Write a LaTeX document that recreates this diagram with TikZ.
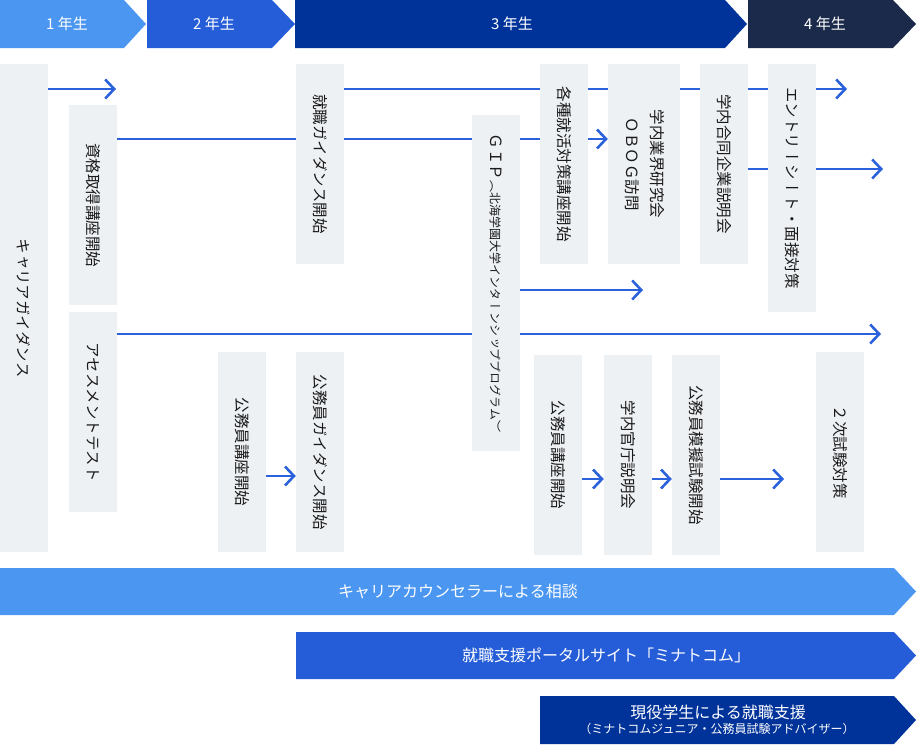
\documentclass[tikz,border=0pt]{standalone}
\usepackage{fontspec}
\usepackage{graphicx}
\setmainfont{Noto Sans CJK JP}
\newfontfamily\tate[Vertical=RotatedGlyphs]{Noto Sans CJK JP}
\usetikzlibrary{arrows.meta,backgrounds}

\definecolor{boxgray}{HTML}{EEF1F4}
\definecolor{flowblue}{HTML}{2B62DC}
\definecolor{grade1}{HTML}{4A96F0}
\definecolor{grade2}{HTML}{255CD8}
\definecolor{grade3}{HTML}{00339A}
\definecolor{grade4}{HTML}{1B2A4A}
\definecolor{inktext}{HTML}{1A1A1A}

\newcommand{\vtext}[1]{\rotatebox{-90}{\tate\fontsize{15.5}{25}\selectfont #1}}

\tikzset{
  box/.style={fill=boxgray, minimum width=48pt, inner sep=0pt, text=inktext},
  flow/.style={draw=flowblue, line width=2.8pt, -{Straight Barb[length=9pt,width=19pt,line width=2.6pt]}},
  bandtext/.style={text=white, font=\fontsize{15}{18}\selectfont},
  bartext/.style={text=white, font=\fontsize{16}{19}\selectfont},
}

\begin{document}
\begin{tikzpicture}[x=1pt,y=-1pt]
\useasboundingbox (0,0) rectangle (917,744);

% grade bands
\fill[grade1] (0,0) -- (124,0) -- (146,24) -- (124,48) -- (0,48) -- cycle;
\fill[grade2] (147,0) -- (272,0) -- (295,24) -- (272,48) -- (147,48) -- cycle;
\fill[grade3] (295,0) -- (725,0) -- (747,24) -- (725,48) -- (295,48) -- cycle;
\fill[grade4] (748,0) -- (893,0) -- (916,24) -- (893,48) -- (748,48) -- cycle;
\node[bandtext] (year1) at (67,24) {1 年生};
\node[bandtext] (year2) at (214,24) {2 年生};
\node[bandtext] (year3) at (512,24) {3 年生};
\node[bandtext] (year4) at (825,24) {4 年生};

% boxes
\node[box, minimum height=488pt] (careerguide) at (24,308) {\vtext{キャリアガイダンス}};
\node[box, minimum height=200pt] (shikaku) at (93,205) {\vtext{資格取得講座開始}};
\node[box, minimum height=200pt] (assess) at (93,412) {\vtext{アセスメントテスト}};
\node[box, minimum height=200pt] (jobguide) at (320,164) {\vtext{就職ガイダンス開始}};
\node[box, minimum height=200pt] (kouza1) at (242,452) {\vtext{公務員講座開始}};
\node[box, minimum height=200pt] (kguide) at (320,452) {\vtext{公務員ガイダンス開始}};
\node[box, minimum height=336pt] (gip) at (496,283) {\vtext{ＧＩＰ{\fontsize{12}{14}\selectfont（北海学園大学インターンシッププログラム）}}};
\node[box, minimum height=200pt] (kakushu) at (564,164) {\vtext{各種就活対策講座開始}};
\node[box, minimum height=200pt, minimum width=72pt] (obog) at (644,164) {\vtext{\begin{tabular}{@{}c@{}}学内業界研究会\\ＯＢＯＧ訪問\end{tabular}}};
\node[box, minimum height=200pt] (goudou) at (724,164) {\vtext{学内合同企業説明会}};
\node[box, minimum height=248pt] (entry) at (792,188) {\vtext{エントリーシート・面接対策}};
\node[box, minimum height=200pt] (kouza2) at (558,455) {\vtext{公務員講座開始}};
\node[box, minimum height=200pt] (kanchou) at (628,455) {\vtext{学内官庁説明会}};
\node[box, minimum height=200pt] (mogi) at (696,455) {\vtext{公務員模擬試験開始}};
\node[box, minimum height=200pt] (niji) at (840,452) {\vtext{２次試験対策}};

% free ends
\coordinate (end1) at (116,89);
\coordinate (end2) at (847,89);
\coordinate (lane2) at (0,139);
\coordinate (end3) at (883,169);
\coordinate (end4) at (643,290);
\coordinate (end5) at (881,334);
\coordinate (lane6) at (0,476);
\coordinate (lane7) at (0,479);
\coordinate (end7) at (784,479);

\begin{pgfonlayer}{background}
\draw[flow] (careerguide.east |- end1) -- (end1);
\draw[flow] (jobguide.east |- end2) -- (end2);
\draw[flow] (shikaku.east |- lane2) -- (obog.west |- lane2);
\draw[flow] (goudou.east |- end3) -- (end3);
\draw[flow] (gip.east |- end4) -- (end4);
\draw[flow] (assess.east |- end5) -- (end5);
\end{pgfonlayer}
\draw[flow] (kouza1.east |- lane6) -- (kguide.west |- lane6);
\draw[flow] (kouza2.east |- lane7) -- (kanchou.west |- lane7);
\draw[flow] (kanchou.east |- lane7) -- (mogi.west |- lane7);
\draw[flow] (mogi.east |- lane7) -- (end7);

% support bars
\fill[grade1] (0,568) -- (894,568) -- (916,591.5) -- (894,615) -- (0,615) -- cycle;
\fill[grade2] (296,632) -- (894,632) -- (916,655.5) -- (894,679) -- (296,679) -- cycle;
\fill[grade3] (540,696) -- (894,696) -- (916,720) -- (894,744) -- (540,744) -- cycle;
\node[bartext] (counsel) at (458,591.5) {キャリアカウンセラーによる相談};
\node[bartext] (portal) at (606,655.5) {就職支援ポータルサイト「ミナトコム」};
\node[bartext] (senpai) at (718,712) {現役学生による就職支援};
\node[text=white, font=\fontsize{12}{14}\selectfont] (senpaisub) at (717,729) {（ミナトコムジュニア・公務員試験アドバイザー）};
\end{tikzpicture}
\end{document}
